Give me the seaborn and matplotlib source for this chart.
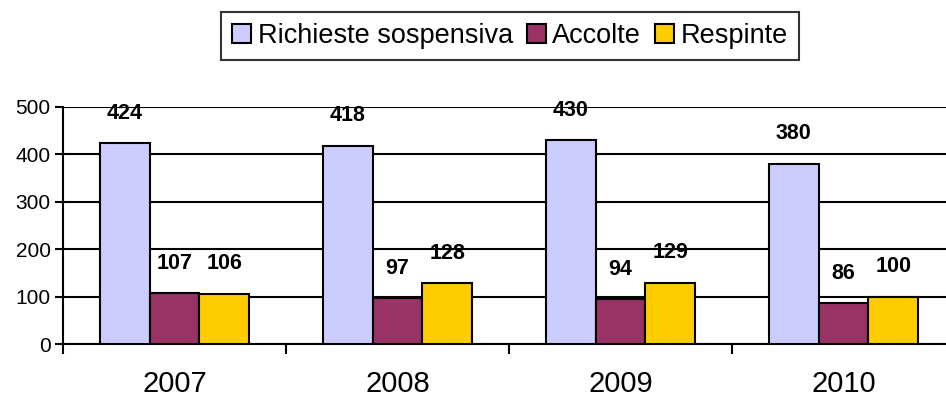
import pandas as pd
import seaborn as sns
import matplotlib.pyplot as plt

# Dati
anni = ['2007', '2008', '2009', '2010']
serie = ['Richieste sospensiva', 'Accolte', 'Respinte']
richieste = [424, 418, 430, 380]
accolte = [107, 97, 94, 86]
respinte = [106, 128, 129, 100]
colori = ['#CCCCFF', '#993366', '#FFCC00']

df = pd.DataFrame({
    'anno': anni * 3,
    'serie': [s for s in serie for _ in anni],
    'valore': richieste + accolte + respinte,
})

sns.set_style('white')
plt.rcParams['font.family'] = ['Liberation Sans', 'DejaVu Sans']
plt.rcParams['text.color'] = 'black'
plt.rcParams['xtick.color'] = 'black'
plt.rcParams['ytick.color'] = 'black'

fig = plt.figure(figsize=(9.46, 4), dpi=100)
ax = fig.add_axes([63 / 946, 56 / 400, 892 / 946, 237 / 400])

sns.barplot(data=df, x='anno', y='valore', hue='serie', hue_order=serie,
            palette=colori, saturation=1, edgecolor='black', linewidth=1.5,
            width=0.67, gap=0, ax=ax, zorder=3)

for c in ax.containers:
    ax.bar_label(c, padding=14, fontsize=15.5, fontweight='bold', color='black')

ax.set_ylim(0, 500)
ax.set_yticks([0, 100, 200, 300, 400, 500])
ax.set_xlim(-0.5, 3.5)
ax.grid(axis='y', color='black', linewidth=1.5, zorder=0)
ax.set_axisbelow(True)
ax.set_xlabel('')
ax.set_ylabel('')

for s in ['top', 'right']:
    ax.spines[s].set_visible(False)
for s in ['left', 'bottom']:
    ax.spines[s].set_color('black')
    ax.spines[s].set_linewidth(1.5)

ax.tick_params(axis='y', labelsize=15, length=6, width=1.5, color='black',
               labelcolor='black', left=True, pad=3)
ax.tick_params(axis='x', which='major', labelsize=21, length=0, pad=19,
               labelcolor='black')
ax.set_xticks([-0.5, 0.5, 1.5, 2.5, 3.5], minor=True)
ax.tick_params(axis='x', which='minor', length=7, width=1.5, color='black',
               bottom=True, direction='out')

leg = ax.legend(loc='upper center', bbox_to_anchor=(510 / 946, 0.97),
                bbox_transform=fig.transFigure, ncol=3, fontsize=19.5,
                frameon=True, fancybox=False, handlelength=0.7,
                handleheight=0.7, handletextpad=0.25, columnspacing=0.5,
                borderpad=0.4, borderaxespad=0)
leg.get_frame().set_edgecolor('black')
leg.get_frame().set_linewidth(1.5)

fig.savefig('out.png', dpi=100)
